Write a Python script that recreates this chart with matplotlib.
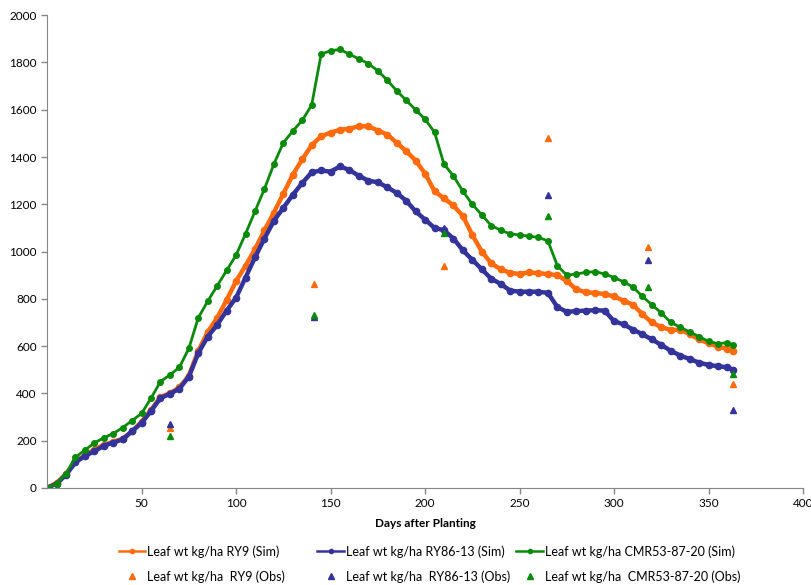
import matplotlib
matplotlib.use("Agg")
import matplotlib.pyplot as plt
from matplotlib.lines import Line2D

# days after planting (simulation output, read every 5 days)
days = [0, 5, 10, 15, 20, 25, 30, 35, 40, 45, 50, 55, 60, 65, 70, 75, 80, 85, 90, 95,
        100, 105, 110, 115, 120, 125, 130, 135, 140, 145, 150, 155, 160, 165, 170, 175,
        180, 185, 190, 195, 200, 205, 210, 215, 220, 225, 230, 235, 240, 245, 250, 255,
        260, 265, 270, 275, 280, 285, 290, 295, 300, 305, 310, 315, 320, 325, 330, 335,
        340, 345, 350, 355, 360, 363]

sim_ry9 = [0, 20, 60, 112, 138, 162, 182, 195, 208, 240, 280, 330, 385, 400, 425, 475,
           580, 660, 720, 795, 875, 940, 1010, 1090, 1165, 1245, 1325, 1390, 1450, 1488,
           1503, 1515, 1520, 1530, 1530, 1512, 1495, 1460, 1425, 1385, 1330, 1255, 1225,
           1195, 1150, 1070, 1000, 950, 925, 910, 905, 912, 908, 905, 900, 875, 840, 828,
           825, 820, 810, 792, 775, 735, 700, 680, 668, 670, 650, 628, 612, 598, 588, 580]

sim_ry86 = [0, 18, 55, 108, 135, 155, 178, 192, 205, 240, 275, 325, 380, 398, 420, 470,
            570, 640, 690, 750, 805, 890, 975, 1055, 1130, 1185, 1240, 1290, 1335, 1343,
            1338, 1360, 1345, 1320, 1300, 1293, 1272, 1248, 1215, 1170, 1135, 1100, 1090,
            1055, 1005, 965, 925, 885, 863, 835, 830, 830, 830, 825, 765, 745, 748, 750,
            752, 750, 705, 692, 670, 650, 628, 605, 580, 560, 545, 530, 520, 515, 510, 500]

sim_cmr = [0, 18, 60, 130, 160, 190, 212, 230, 255, 285, 315, 380, 450, 478, 510, 590,
           720, 790, 855, 920, 985, 1075, 1170, 1265, 1370, 1460, 1510, 1555, 1620, 1835,
           1850, 1855, 1835, 1815, 1795, 1765, 1725, 1680, 1640, 1600, 1560, 1505, 1370,
           1320, 1255, 1200, 1155, 1110, 1090, 1075, 1070, 1065, 1060, 1045, 940, 900,
           905, 912, 915, 905, 890, 872, 850, 810, 775, 740, 700, 680, 660, 640, 620, 610,
           615, 605]

# observed values
obs_days = [65, 141, 210, 265, 318, 363]
obs_ry9 = [255, 862, 938, 1480, 1020, 438]
obs_ry86 = [270, 725, 1100, 1240, 965, 330]
obs_cmr = [218, 730, 1080, 1150, 850, 480]

orange = "#FF6A0D"
blue = "#33339A"
green = "#0A8A0A"

plt.rcParams['font.family'] = ['Lato', 'DejaVu Sans']

fig = plt.figure(figsize=(8.12, 5.85), dpi=100)
ax = fig.add_axes([0.058, 0.166, 0.931, 0.808])

ax.plot(days, sim_ry9, color=orange, lw=3.2, marker='o', ms=4.5)
ax.plot(days, sim_ry86, color=blue, lw=3.2, marker='o', ms=4.5)
ax.plot(days, sim_cmr, color=green, lw=2, marker='o', ms=4)

ax.plot(obs_days, obs_ry9, ls='none', marker='^', color=orange, ms=5)
ax.plot(obs_days, obs_ry86, ls='none', marker='^', color=blue, ms=5)
ax.plot(obs_days, obs_cmr, ls='none', marker='^', color=green, ms=5)

ax.set_xlim(0, 400)
ax.set_ylim(0, 2000)
ax.set_xticks(range(50, 401, 50))
ax.set_yticks(range(0, 2001, 200))
ax.tick_params(labelsize=8.5, length=4, color='#868686', width=1)
ax.spines['top'].set_visible(False)
ax.spines['right'].set_visible(False)
for s in ['left', 'bottom']:
    ax.spines[s].set_color('#868686')
ax.set_xlabel('Days after Planting', fontsize=8.5, fontweight='bold', labelpad=6)

# legend: three columns, line on top and triangle below
cols = [
    (orange, 'Leaf wt kg/ha RY9 (Sim)', 'Leaf wt kg/ha  RY9 (Obs)', 0.146),
    (blue, 'Leaf wt kg/ha RY86-13 (Sim)', 'Leaf wt kg/ha  RY86-13 (Obs)', 0.391),
    (green, 'Leaf wt kg/ha CMR53-87-20 (Sim)', 'Leaf wt kg/ha  CMR53-87-20 (Obs)', 0.636),
]
for c, lab_sim, lab_obs, x0 in cols:
    h1 = Line2D([], [], color=c, lw=1.8, marker='o', ms=3)
    h2 = Line2D([], [], color=c, ls='none', marker='^', ms=5)
    fig.legend([h1, h2], [lab_sim, lab_obs], loc='upper left',
               bbox_to_anchor=(x0, 0.068), bbox_transform=fig.transFigure,
               frameon=False, fontsize=9, handlelength=2.1, handletextpad=0.2,
               labelspacing=1.0, borderaxespad=0, borderpad=0, numpoints=1)

fig.savefig('out.png', dpi=100)
